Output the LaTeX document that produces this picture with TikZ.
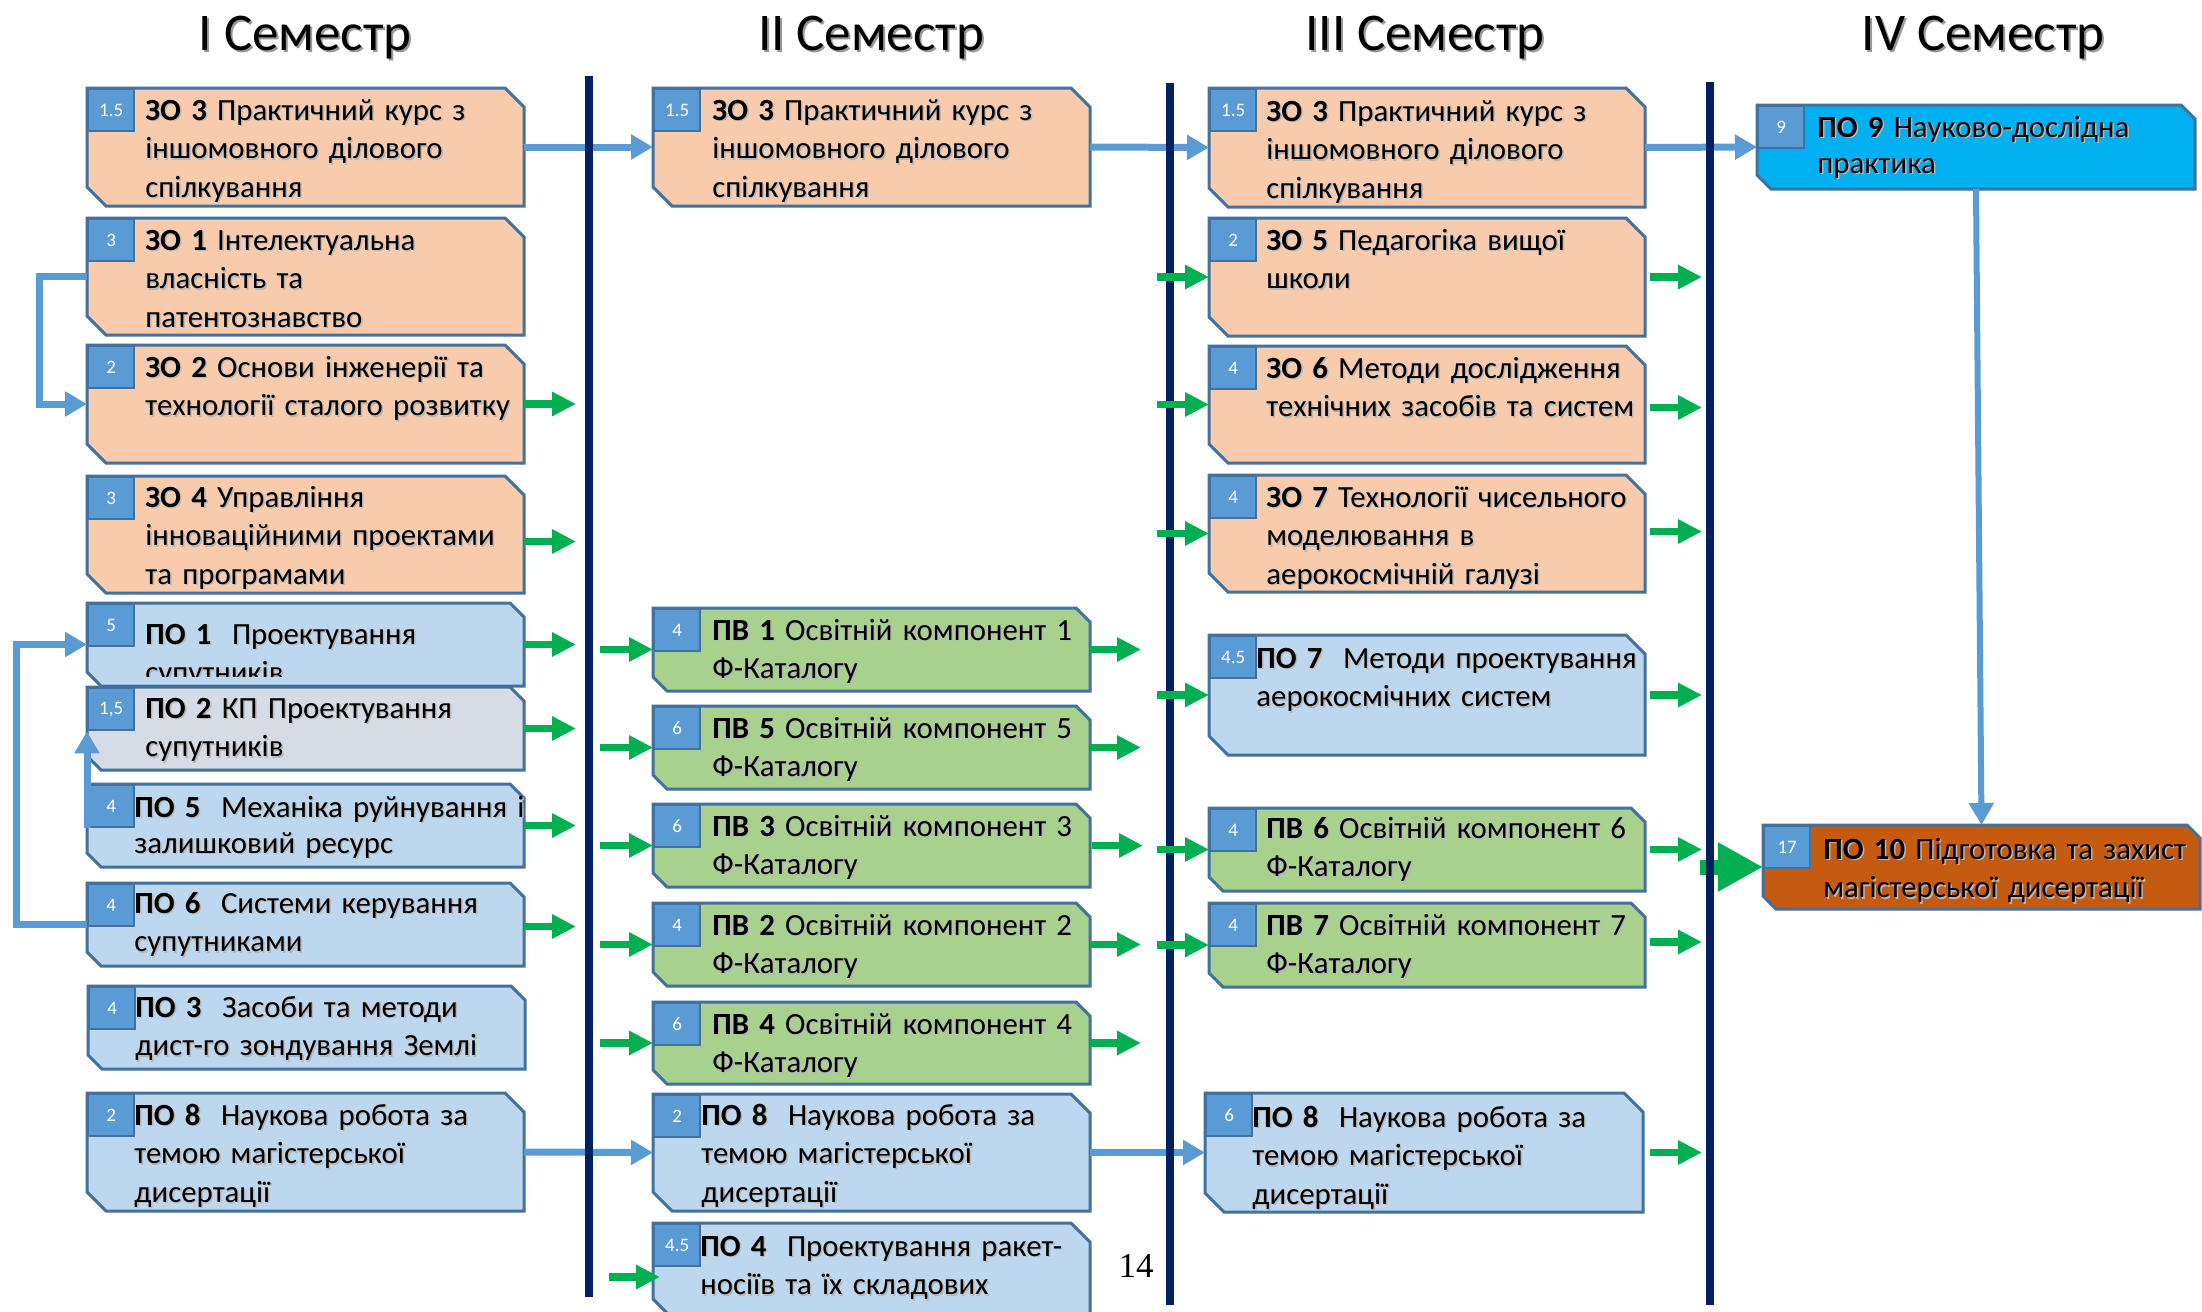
\documentclass[tikz,border=0pt]{standalone}
\usepackage{fontspec}
\setmainfont{Carlito}
\newfontfamily\serifnum{Liberation Serif}
\usetikzlibrary{arrows.meta,calc}
\definecolor{peach}{HTML}{F8CBAD}
\definecolor{lblue}{HTML}{BDD7EE}
\definecolor{lgreen}{HTML}{A9D18E}
\definecolor{grayblue}{HTML}{D6DCE5}
\definecolor{cyanbox}{HTML}{00B0F0}
\definecolor{orangebox}{HTML}{C55A11}
\definecolor{badgeblue}{HTML}{5B9BD5}
\definecolor{bdr}{HTML}{41719C}
\definecolor{arrowblue}{HTML}{5B9BD5}
\definecolor{arrowgreen}{HTML}{00B050}
\definecolor{navy}{HTML}{002060}
\tikzset{
 boxanchor/.style={inner sep=0pt, outer sep=0pt, draw=none, rectangle},
 boxline/.style={draw=bdr, line width=1.5pt, line join=miter},
 badge/.style={draw=bdr, line width=1.2pt, fill=badgeblue, minimum width=23pt, minimum height=21pt, inner sep=0pt, anchor=north west, text=white, font=\fontsize{9.5}{11}\selectfont},
 btext/.style={anchor=base west, inner sep=0pt, text width=240pt, align=left, font=\fontsize{15.4}{19.25}\selectfont},
 bshadow/.style={btext, text=black!28},
 title/.style={anchor=base, inner sep=0pt, font=\fontsize{26.5}{30}\selectfont},
 tshadow/.style={title, text=black!40},
 divider/.style={draw=navy, line width=4pt},
 barrow/.style={draw=arrowblue, line width=3.5pt, -{Triangle[length=11pt,width=12pt]}},
 garrow/.style={draw=arrowgreen, line width=3.75pt, -{Triangle[length=12pt,width=11.5pt]}},
}
% name x1 y1 x2 y2 fill chamfer badge
\newcommand\mkbox[8]{%
 \filldraw[boxline, fill=#6] (#2,#3) -- ({#4-#7},#3) -- (#4,{#3+#7}) -- (#4,#5) -- ({#2+#7},#5) -- (#2,{#5-#7}) -- cycle;
 \node[boxanchor, minimum width={(#4-#2)*0.5pt}, minimum height={(#5-#3)*0.5pt}] (#1) at ({(#2+#4)/2},{(#3+#5)/2}) {};
 \node[badge] (#1-b) at (#1.north west) {#8};
}
\newcommand\mktext[5][]{%
 \node[bshadow,#1] (#2-s) at ({#3+1.5},{#4+1.5}) {#5};
 \node[btext,#1] (#2) at (#3,#4) {#5};
}
\newcommand\mktitle[3]{%
 \node[tshadow] (#1-s) at ({#2+2},52) {#3};
 \node[title] (#1) at (#2,50) {#3};
}
\begin{document}
\begin{tikzpicture}[x=0.5pt,y=-0.5pt]
\fill[white] (0,0) rectangle (2202,1312);
\useasboundingbox (0,0) rectangle (2202,1312);

% titles
\mktitle{t1}{305}{I Семестр}
\mktitle{t2}{871}{II Семестр}
\mktitle{t3}{1425}{III Семестр}
\mktitle{t4}{1983}{IV Семестр}

% column I
\mkbox{zo3a}{87}{88}{524}{206}{peach}{19}{1.5}
\mkbox{zo1}{87}{218}{524}{335}{peach}{19}{3}
\mkbox{zo2}{87}{345}{524}{463}{peach}{19}{2}
\mkbox{zo4}{87}{476}{524}{593}{peach}{19}{3}
\mkbox{po1}{87}{603}{524}{686}{lblue}{14}{5}
\mkbox{po2}{87}{687}{524}{770}{grayblue}{14}{1,5}
\mkbox{po5}{87}{784}{524}{867}{lblue}{14}{4}
\mkbox{po6}{87}{883}{524}{966}{lblue}{14}{4}
\mkbox{po3}{88}{986}{525}{1069}{lblue}{14}{4}
\mkbox{po8a}{87}{1093}{524}{1211}{lblue}{19}{2}

\mktext{zo3a-t}{145}{120}{\textbf{ЗО 3} Практичний курс з\\іншомовного ділового\\спілкування}
\mktext{zo1-t}{145}{250}{\textbf{ЗО 1} Інтелектуальна\\власність та\\патентознавство}
\mktext{zo2-t}{145}{377}{\textbf{ЗО 2} Основи інженерії та\\технології сталого розвитку}
\mktext{zo4-t}{145}{507}{\textbf{ЗО 4} Управління\\інноваційними проектами\\та програмами}
\begin{scope}
\clip (87,603) rectangle (524,676);
\mktext{po1-t}{145}{644}{\textbf{ПО 1}\ \ Проектування\\супутників}
\end{scope}
\mktext{po2-t}{145}{718}{\textbf{ПО 2} КП Проектування\\супутників}
\mktext[font=\fontsize{15.4}{18}\selectfont]{po5-t}{134}{817}{\textbf{ПО 5}\ \ Механіка руйнування і\\залишковий ресурс}
\mktext{po6-t}{134}{913}{\textbf{ПО 6}\ \ Системи керування\\супутниками}
\mktext{po3-t}{135}{1017}{\textbf{ПО 3}\ \ Засоби та методи\\дист-го зондування Землі}
\mktext{po8a-t}{134}{1125}{\textbf{ПО 8}\ \ Наукова робота за\\темою магістерської\\дисертації}

% column II
\mkbox{zo3b}{653}{88}{1090}{206}{peach}{19}{1.5}
\mkbox{pv1}{653}{608}{1090}{691}{lgreen}{14}{4}
\mkbox{pv5}{653}{706}{1090}{789}{lgreen}{14}{6}
\mkbox{pv3}{653}{804}{1090}{887}{lgreen}{14}{6}
\mkbox{pv2}{653}{903}{1090}{986}{lgreen}{14}{4}
\mkbox{pv4}{653}{1002}{1090}{1084}{lgreen}{14}{6}
\mkbox{po8b}{653}{1094}{1090}{1211}{lblue}{19}{2}
\mkbox{po4}{653}{1223}{1090}{1318}{lblue}{19}{4.5}

\mktext{zo3b-t}{712}{120}{\textbf{ЗО 3} Практичний курс з\\іншомовного ділового\\спілкування}
\mktext{pv1-t}{712}{640}{\textbf{ПВ 1} Освітній компонент 1\\Ф-Каталогу}
\mktext{pv5-t}{712}{738}{\textbf{ПВ 5} Освітній компонент 5\\Ф-Каталогу}
\mktext{pv3-t}{712}{836}{\textbf{ПВ 3} Освітній компонент 3\\Ф-Каталогу}
\mktext{pv2-t}{712}{935}{\textbf{ПВ 2} Освітній компонент 2\\Ф-Каталогу}
\mktext{pv4-t}{712}{1034}{\textbf{ПВ 4} Освітній компонент 4\\Ф-Каталогу}
\mktext{po8b-t}{701}{1125}{\textbf{ПО 8}\ \ Наукова робота за\\темою магістерської\\дисертації}
\mktext{po4-t}{700}{1256}{\textbf{ПО 4}\ \ Проектування ракет-\\носіїв та їх складових}

% column III
\mkbox{zo3c}{1209}{88}{1645}{207}{peach}{19}{1.5}
\mkbox{zo5}{1209}{218}{1645}{336}{peach}{19}{2}
\mkbox{zo6}{1209}{346}{1645}{463}{peach}{19}{4}
\mkbox{zo7}{1209}{475}{1645}{592}{peach}{19}{4}
\mkbox{po7}{1209}{635}{1645}{755}{lblue}{19}{4.5}
\mkbox{pv6}{1209}{808}{1645}{891}{lgreen}{14}{4}
\mkbox{pv7}{1209}{903}{1645}{987}{lgreen}{14}{4}
\mkbox{po8c}{1205}{1093}{1643}{1212}{lblue}{19}{6}

\mktext{zo3c-t}{1266}{121}{\textbf{ЗО 3} Практичний курс з\\іншомовного ділового\\спілкування}
\mktext{zo5-t}{1266}{250}{\textbf{ЗО 5} Педагогіка вищої\\школи}
\mktext{zo6-t}{1266}{378}{\textbf{ЗО 6} Методи дослідження\\технічних засобів та систем}
\mktext{zo7-t}{1266}{507}{\textbf{ЗО 7} Технології чисельного\\моделювання в\\аерокосмічній галузі}
\mktext{po7-t}{1256}{668}{\textbf{ПО 7}\ \ Методи проектування\\аерокосмічних систем}
\mktext{pv6-t}{1266}{838}{\textbf{ПВ 6} Освітній компонент 6\\Ф-Каталогу}
\mktext{pv7-t}{1266}{935}{\textbf{ПВ 7} Освітній компонент 7\\Ф-Каталогу}
\mktext{po8c-t}{1252}{1127}{\textbf{ПО 8}\ \ Наукова робота за\\темою магістерської\\дисертації}

% column IV
\mkbox{po9}{1757}{105}{2195}{189}{cyanbox}{14}{9}
\mkbox{po10}{1763}{825}{2200}{909}{orangebox}{13}{17}
\mktext[font=\fontsize{15.4}{18}\selectfont]{po9-t}{1817}{137}{\textbf{ПО 9} Науково-дослідна\\практика}
\mktext{po10-t}{1823}{859}{\textbf{ПО 10} Підготовка та захист\\магістерської дисертації}

% blue connectors
\draw[barrow] (zo3a.east) -- (zo3b.west);
\draw[barrow] (zo3b.east) -- (zo3c.west);
\draw[barrow] (zo3c.east) -- (po9.west);
\draw[barrow] (zo1.west) -- ++(-48,0) |- (zo2.west);
\draw[barrow] (po6.west) -- ++(-71,0) |- (po1.west);
\draw[barrow] (po5-b.south west) -- (po2-b.south west);
\draw[barrow] (po8a.east) -- (po8b.west);
\draw[barrow] (po8b.east) -- (po8c.west);
\draw[barrow, line width=3pt] (po9.south) -- (po10.north);

% big green arrow
\draw[arrowgreen, line width=7.5pt, -{Triangle[length=22.5pt,width=23pt]}] ($(po10.west)+(-63,0)$) -- (po10.west);

% dividers
\coordinate (d1a) at (589,76);
\coordinate (d1b) at (589,1297);
\coordinate (d2a) at (1170,83);
\coordinate (d2b) at (1170,1305);
\coordinate (d3a) at (1710,82);
\coordinate (d3b) at (1710,1305);
\draw[divider] (d1a) -- (d1b);
\draw[divider] (d2a) -- (d2b);
\draw[divider] (d3a) -- (d3b);

% green arrows, column I out
\draw[garrow] (zo2.east) -- ++(52,0);
\draw[garrow] ($(zo4.east)+(0,7)$) -- ++(52,0);
\draw[garrow] (po1.east) -- ++(52,0);
\draw[garrow] (po2.east) -- ++(52,0);
\draw[garrow] (po5.east) -- ++(52,0);
\draw[garrow] ($(po6.east)+(0,2)$) -- ++(52,0);
% column II in
\draw[garrow] ($(pv1.west)+(-53,0)$) -- (pv1.west);
\draw[garrow] ($(pv5.west)+(-53,0)$) -- (pv5.west);
\draw[garrow] ($(pv3.west)+(-53,0)$) -- (pv3.west);
\draw[garrow] ($(pv2.west)+(-53,0)$) -- (pv2.west);
\draw[garrow] ($(pv4.west)+(-53,0)$) -- (pv4.west);
\draw[garrow] ($(po4.north west)+(-44,54)$) -- ($(po4.north west)+(7,54)$);
% column II out
\draw[garrow] (pv1.east) -- ++(51,0);
\draw[garrow] (pv5.east) -- ++(51,0);
\draw[garrow] ($(pv3.east)+(2,0)$) -- ++(51,0);
\draw[garrow] (pv2.east) -- ++(51,0);
\draw[garrow] (pv4.east) -- ++(51,0);
% column III in
\draw[garrow] ($(zo5.west)+(-52,0)$) -- (zo5.west);
\draw[garrow] ($(zo6.west)+(-52,0)$) -- (zo6.west);
\draw[garrow] ($(zo7.west)+(-52,0)$) -- (zo7.west);
\draw[garrow] ($(po7.west)+(-52,0)$) -- (po7.west);
\draw[garrow] ($(pv6.west)+(-52,0)$) -- (pv6.west);
\draw[garrow] ($(pv7.west)+(-52,0)$) -- (pv7.west);
% column III out
\draw[garrow] ($(zo5.east)+(5,0)$) -- ++(52,0);
\draw[garrow] ($(zo6.east)+(5,3)$) -- ++(52,0);
\draw[garrow] ($(zo7.east)+(5,-2)$) -- ++(52,0);
\draw[garrow] ($(po7.east)+(5,0)$) -- ++(52,0);
\draw[garrow] ($(pv6.east)+(5,0)$) -- ++(52,0);
\draw[garrow] ($(pv7.east)+(5,-3)$) -- ++(52,0);
\draw[garrow] ($(po8c.east)+(7,0)$) -- ++(52,0);

% page number
\node[anchor=base, inner sep=0pt, font=\serifnum\fontsize{17.5}{20}\selectfont] (pg) at (1136,1277) {14};
\end{tikzpicture}
\end{document}
